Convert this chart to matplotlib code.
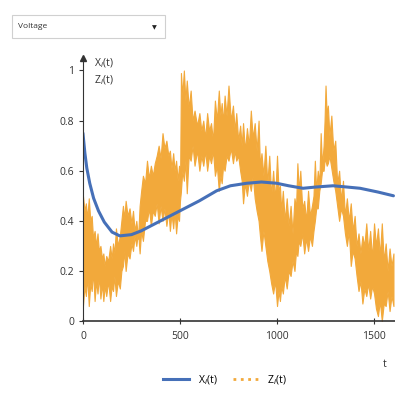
import matplotlib.pyplot as plt
from matplotlib.patches import Rectangle
from matplotlib.lines import Line2D

# Xi(t) - curva suave (azul)
t_x = [0, 5, 10, 20, 35, 55, 80, 110, 150, 190, 250, 300, 400, 500, 600, 689, 760, 844, 920,
       998, 1060, 1134, 1200, 1289, 1360, 1428, 1520, 1600]
x_vals = [0.75, 0.71, 0.67, 0.61, 0.55, 0.49, 0.44, 0.395, 0.355, 0.34, 0.345, 0.36, 0.40, 0.44,
          0.48, 0.52, 0.54, 0.55, 0.555, 0.55, 0.54, 0.53, 0.535, 0.54, 0.535, 0.53, 0.515, 0.50]

# Zi(t) - señal ruidosa (naranja), envolvente
t_z = [0, 8, 15, 22, 30, 38, 45, 52, 60, 68, 75, 82, 90, 98, 105, 112, 120, 130, 140, 148,
       155, 162, 170, 180, 190, 198, 206, 213, 220, 230, 240, 250, 258, 266, 275, 284, 292,
       300, 309, 320, 330, 340, 350, 360, 370, 380, 390, 400, 410, 420, 430, 440, 448, 456,
       465, 472, 480, 488, 495, 500, 505, 512, 520, 528, 535, 545, 555, 565, 575, 588, 600,
       610, 620, 630, 640, 650, 660, 670, 680, 690, 700, 708, 715, 722, 730, 740, 750, 762,
       773, 782, 790, 800, 810, 818, 825, 835, 845, 855, 865, 875, 885, 895, 905, 912, 920,
       930, 940, 950, 960, 970, 980, 990, 1000, 1008, 1015, 1022, 1030, 1040, 1050, 1060,
       1070, 1080, 1090, 1098, 1105, 1112, 1120, 1130, 1140, 1150, 1160, 1170, 1180, 1188,
       1195, 1202, 1210, 1218, 1225, 1232, 1240, 1245, 1250, 1256, 1262, 1270, 1280, 1290,
       1300, 1310, 1320, 1330, 1340, 1350, 1360, 1370, 1380, 1390, 1400, 1410, 1420, 1430,
       1440, 1450, 1460, 1470, 1480, 1490, 1500, 1510, 1520, 1530, 1540, 1550, 1560, 1570,
       1580, 1590, 1600]
z_hi = [0.50, 0.44, 0.47, 0.41, 0.49, 0.40, 0.42, 0.33, 0.36, 0.30, 0.35, 0.28, 0.30, 0.25,
        0.27, 0.22, 0.26, 0.24, 0.30, 0.25, 0.31, 0.27, 0.37, 0.30, 0.34, 0.40, 0.46, 0.41,
        0.48, 0.42, 0.45, 0.39, 0.44, 0.36, 0.40, 0.33, 0.46, 0.52, 0.58, 0.55, 0.64, 0.57,
        0.62, 0.58, 0.63, 0.66, 0.70, 0.65, 0.75, 0.69, 0.72, 0.66, 0.68, 0.61, 0.67, 0.60,
        0.64, 0.56, 0.62, 0.50, 0.99, 0.90, 1.00, 0.88, 0.96, 0.85, 0.92, 0.80, 0.84, 0.78,
        0.83, 0.76, 0.80, 0.73, 0.83, 0.76, 0.79, 0.72, 0.88, 0.80, 0.92, 0.82, 0.87, 0.79,
        0.90, 0.82, 0.94, 0.80, 0.86, 0.76, 0.83, 0.72, 0.78, 0.70, 0.79, 0.68, 0.77, 0.70,
        0.84, 0.73, 0.79, 0.68, 0.80, 0.62, 0.67, 0.58, 0.70, 0.55, 0.66, 0.50, 0.60, 0.48,
        0.66, 0.52, 0.54, 0.44, 0.52, 0.40, 0.49, 0.38, 0.46, 0.35, 0.49, 0.45, 0.63, 0.52,
        0.60, 0.45, 0.48, 0.40, 0.52, 0.42, 0.46, 0.50, 0.64, 0.52, 0.60, 0.55, 0.75, 0.62,
        0.70, 0.80, 0.94, 0.82, 0.86, 0.74, 0.82, 0.68, 0.72, 0.55, 0.60, 0.48, 0.56, 0.42,
        0.49, 0.40, 0.47, 0.36, 0.42, 0.30, 0.35, 0.27, 0.34, 0.30, 0.39, 0.28, 0.36, 0.25,
        0.39, 0.30, 0.37, 0.26, 0.39, 0.24, 0.31, 0.20, 0.29, 0.22, 0.27]
z_lo = [0.06, 0.14, 0.10, 0.18, 0.06, 0.15, 0.12, 0.20, 0.08, 0.16, 0.11, 0.18, 0.09, 0.15,
        0.08, 0.14, 0.10, 0.16, 0.08, 0.14, 0.12, 0.18, 0.10, 0.16, 0.13, 0.20, 0.22, 0.28,
        0.20, 0.27, 0.25, 0.31, 0.28, 0.34, 0.30, 0.36, 0.27, 0.36, 0.32, 0.40, 0.40, 0.45,
        0.38, 0.44, 0.42, 0.47, 0.39, 0.46, 0.40, 0.45, 0.38, 0.44, 0.36, 0.43, 0.37, 0.44,
        0.35, 0.42, 0.40, 0.48, 0.52, 0.60, 0.56, 0.64, 0.51, 0.66, 0.64, 0.70, 0.62, 0.68,
        0.60, 0.66, 0.62, 0.68, 0.60, 0.66, 0.63, 0.68, 0.58, 0.62, 0.52, 0.58, 0.55, 0.62,
        0.60, 0.66, 0.64, 0.69, 0.63, 0.68, 0.64, 0.66, 0.60, 0.56, 0.47, 0.55, 0.50, 0.56,
        0.52, 0.58, 0.49, 0.44, 0.40, 0.34, 0.28, 0.36, 0.30, 0.24, 0.20, 0.15, 0.11, 0.16,
        0.06, 0.12, 0.08, 0.14, 0.11, 0.18, 0.13, 0.20, 0.18, 0.24, 0.20, 0.28, 0.26, 0.32,
        0.30, 0.35, 0.27, 0.33, 0.28, 0.34, 0.30, 0.36, 0.40, 0.45, 0.45, 0.52, 0.55, 0.60,
        0.60, 0.64, 0.64, 0.62, 0.63, 0.66, 0.61, 0.56, 0.52, 0.46, 0.40, 0.45, 0.42, 0.35,
        0.30, 0.36, 0.22, 0.28, 0.25, 0.18, 0.12, 0.16, 0.07, 0.13, 0.10, 0.15, 0.09, 0.14,
        0.11, 0.05, 0.02, 0.08, 0.00, 0.07, 0.06, 0.12, 0.04, 0.10, 0.06]

y_ticks = [0, 0.2, 0.4, 0.6, 0.8, 1]
y_labels = ["0", "0.2", "0.4", "0.6", "0.8", "1"]
x_ticks = [0, 500, 1000, 1500]

azul = "#4670B8"
naranja = "#F2A93B"
plt.rcParams['font.family'] = ['Open Sans', 'DejaVu Sans']

fig = plt.figure(figsize=(3.95, 4.17), dpi=100)
ax = fig.add_axes([0.21, 0.23, 0.79, 0.631])

ax.fill_between(t_z, z_lo, z_hi, color=naranja, linewidth=0.8, edgecolor=naranja)
ax.plot(t_x, x_vals, color=azul, linewidth=2.2, solid_capstyle='round')

ax.set_xlim(0, 1608)
ax.set_ylim(0, 1.05)
ax.set_yticks(y_ticks)
ax.set_yticklabels(y_labels)
ax.set_xticks(x_ticks)
ax.tick_params(axis='both', labelsize=7.5, colors='#333333', length=3, width=0.8)
ax.tick_params(axis='x', direction='inout', length=4, pad=5)
for s in ['top', 'right']:
    ax.spines[s].set_visible(False)
ax.spines['left'].set_color('#333333')
ax.spines['bottom'].set_color('#333333')
ax.spines['bottom'].set_linewidth(1.2)

# flecha del eje y
ax.plot(0, 1.05, marker='^', markersize=5, color='#333333', clip_on=False)

ax.text(0.035, 1.005, "X$_i$(t)\nZ$_i$(t)", transform=ax.transAxes, fontsize=7.5,
        va='top', ha='left', color='#333333', linespacing=1.3)
fig.text(0.975, 0.12, "t", fontsize=7.5, color='#333333', ha='center')

# selector "Voltage"
fig.patches.append(Rectangle((0.03, 0.909), 0.387, 0.055, transform=fig.transFigure,
                             facecolor='white', edgecolor='#d0d0d0', linewidth=0.8))
fig.text(0.045, 0.936, "Voltage", fontsize=6, va='center', color='#333333')
fig.text(0.39, 0.934, "▼", fontsize=4.5, va='center', ha='center', color='#222222')

handles = [Line2D([], [], color=azul, linewidth=2.2),
           Line2D([], [], color=naranja, linewidth=2, linestyle=':')]
fig.legend(handles, ["X$_i$(t)", "Z$_i$(t)"], loc='center', bbox_to_anchor=(0.57, 0.089),
           ncol=2, frameon=False, fontsize=7.5, handlelength=2.5, columnspacing=1.5)

plt.savefig("out.png", dpi=100)
